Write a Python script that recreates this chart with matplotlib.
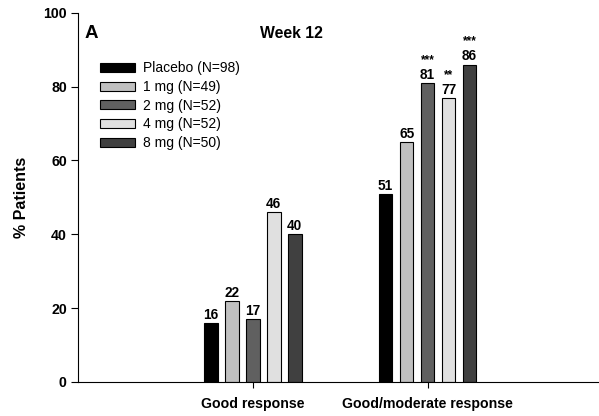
import matplotlib
matplotlib.use("Agg")
import matplotlib.pyplot as plt
import numpy as np

plt.rcParams['font.family'] = ['Liberation Sans', 'DejaVu Sans']

categories = ['Good response', 'Good/moderate response']
groups = ['Placebo (N=98)', '1 mg (N=49)', '2 mg (N=52)', '4 mg (N=52)', '8 mg (N=50)']
good = [16, 22, 17, 46, 40]
good_moderate = [51, 65, 81, 77, 86]
stars_good = ['', '', '', '', '']
stars_gm = ['', '', '***', '**', '***']
colors = ['#000000', '#c0c0c0', '#606060', '#e0e0e0', '#404040']

fig = plt.figure(figsize=(5.99, 4.16), dpi=100)
ax = fig.add_axes([0.130, 0.082, 0.87, 0.887])

x = np.array([1, 2])
step = 0.12
width = 0.078
values = np.array([good, good_moderate])
stars = [stars_good, stars_gm]

for i, g in enumerate(groups):
    pos = x + (i - 2) * step
    bars = ax.bar(pos, values[:, i], width, color=colors[i], edgecolor='black',
                  linewidth=0.8, label=g)
    for j, b in enumerate(bars):
        h = b.get_height()
        ax.text(b.get_x() + b.get_width() / 2, h + 0.3, str(values[j, i]),
                ha='center', va='bottom', fontsize=9.8, fontweight='bold')
        if stars[j][i]:
            ax.text(b.get_x() + b.get_width() / 2, h + 4.6, stars[j][i],
                    ha='center', va='bottom', fontsize=8.5, fontweight='bold')

ax.set_xlim(0, 2.98)
ax.set_ylim(0, 100)
ax.set_yticks([0, 20, 40, 60, 80, 100])
ax.set_xticks(x)
ax.set_xticklabels(categories, fontsize=10.2, fontweight='bold')
ax.tick_params(axis='y', labelsize=10.2, length=5, width=0.8, direction='out', pad=3)
ax.tick_params(axis='x', length=4, width=0.8, direction='out', pad=7)
for t in ax.get_yticklabels():
    t.set_fontweight('bold')
ax.spines['top'].set_visible(False)
ax.spines['right'].set_visible(False)
ax.spines['left'].set_linewidth(0.8)
ax.spines['bottom'].set_linewidth(0.8)

ax.set_ylabel('% Patients', fontsize=11.5, fontweight='bold', labelpad=10)
ax.text(0.04, 94.5, 'A', fontsize=13.5, fontweight='bold', ha='left', va='center')
ax.text(1.22, 94.4, 'Week 12', fontsize=11.3, fontweight='bold', ha='center', va='center')

ax.legend(loc='upper left', bbox_to_anchor=(0.032, 0.884), frameon=False,
          fontsize=10, handlelength=2.5, handleheight=0.62, labelspacing=0.34,
          handletextpad=0.6, borderaxespad=0)

fig.savefig('out.png', dpi=100)
